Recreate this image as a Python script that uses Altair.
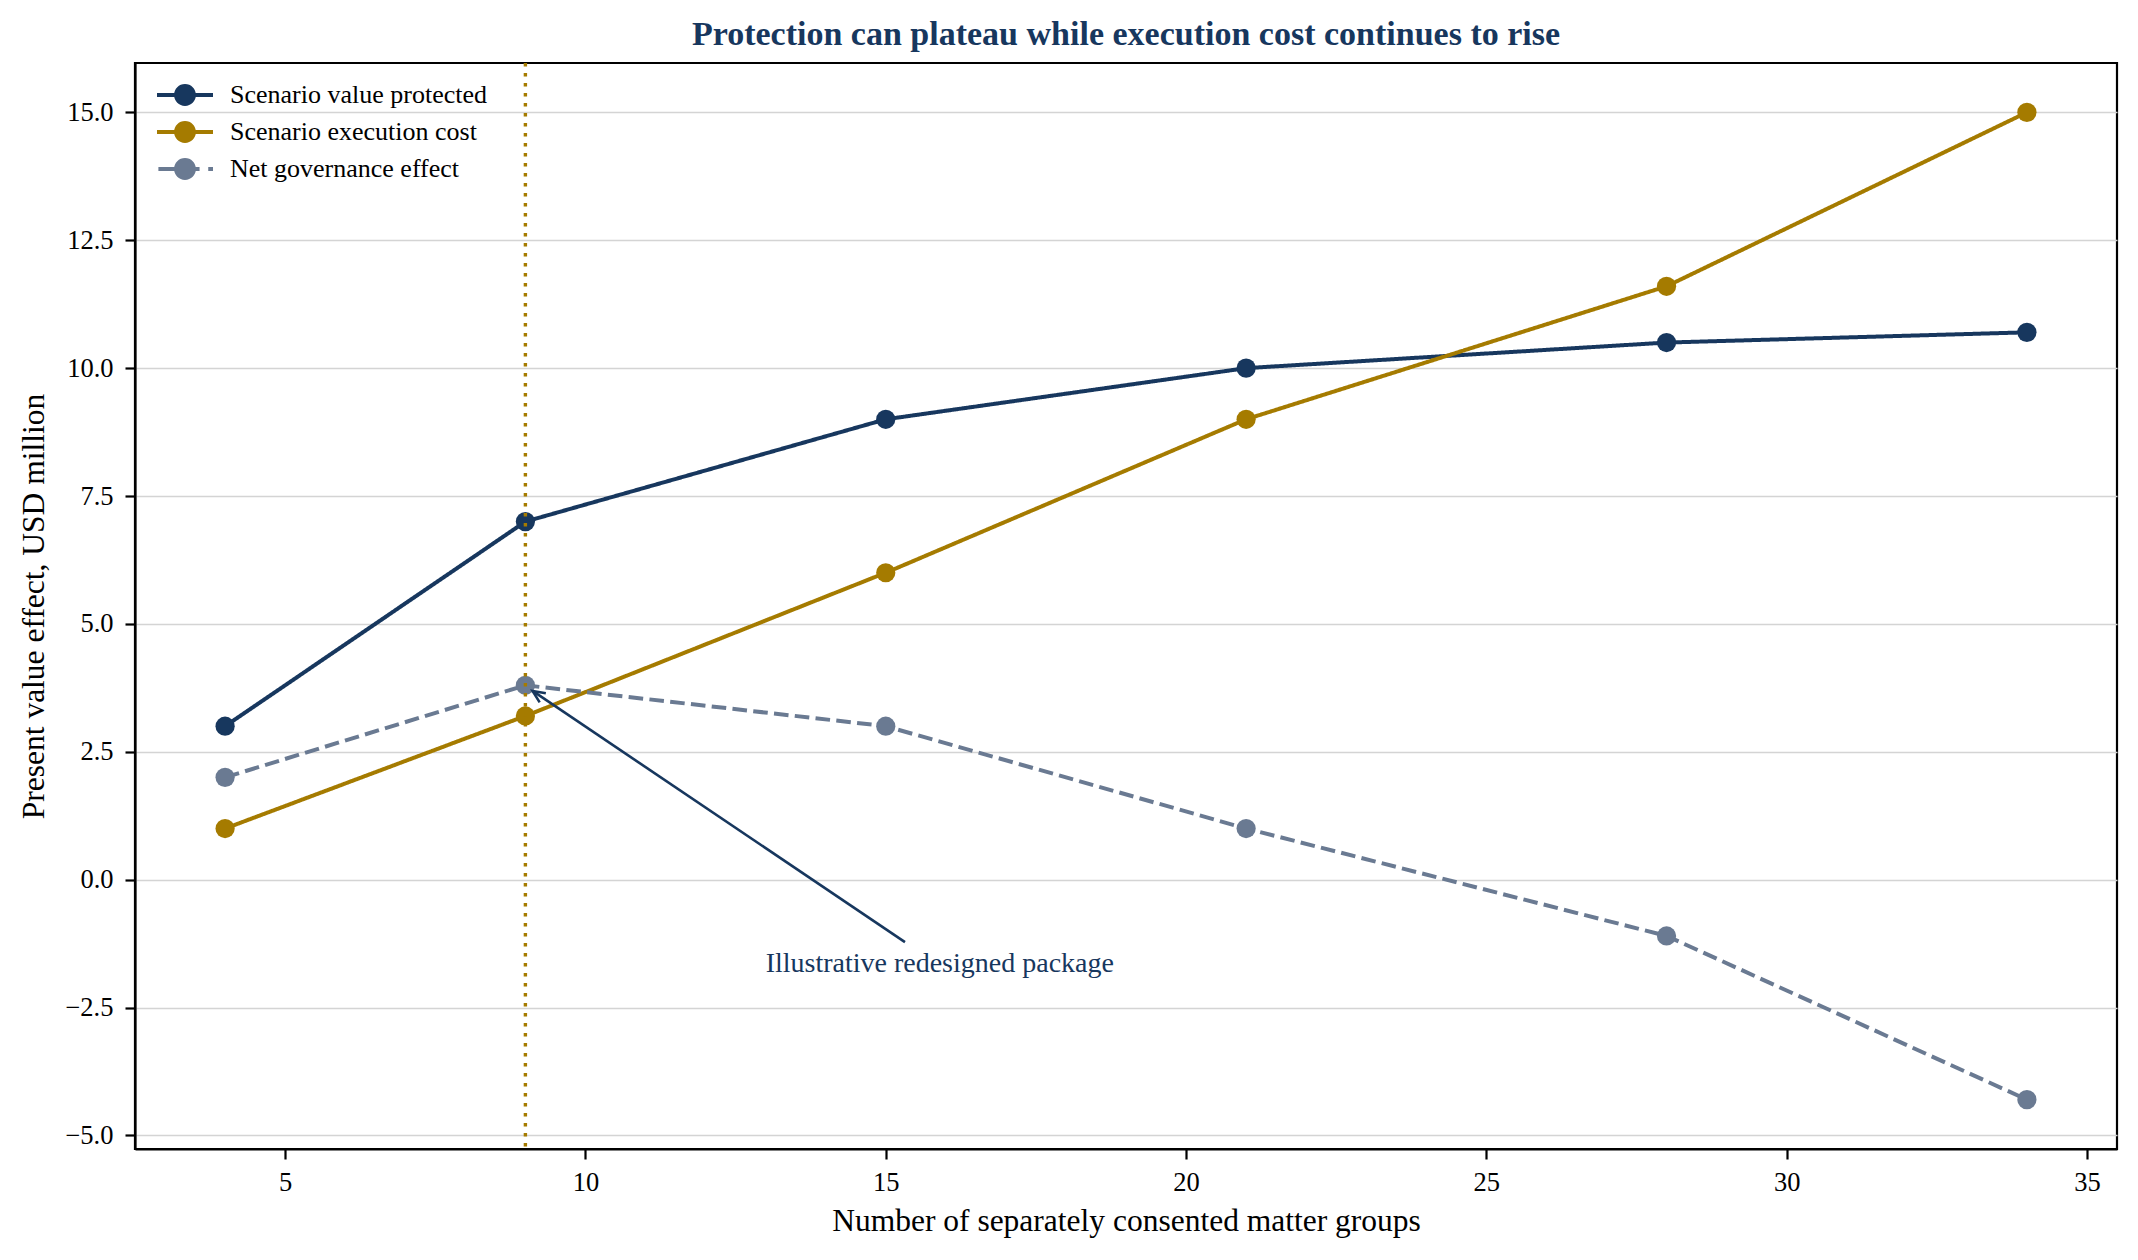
import altair as alt
import pandas as pd

# ---------------- data ----------------
matter_groups = [4, 9, 15, 21, 28, 34]
value_protected = [3.0, 7.0, 9.0, 10.0, 10.5, 10.7]
execution_cost = [1.0, 3.2, 6.0, 9.0, 11.6, 15.0]
net_effect = [2.0, 3.8, 3.0, 1.0, -1.1, -4.3]

series_names = ["Scenario value protected", "Scenario execution cost", "Net governance effect"]
series_colors = ["#17375E", "#A57B00", "#6A7A92"]

x_ticks = [5, 10, 15, 20, 25, 30, 35]
y_ticks = [-5.0, -2.5, 0.0, 2.5, 5.0, 7.5, 10.0, 12.5, 15.0]
x_domain = [2.5, 35.5]
y_domain = [-5.265, 15.965]

redesign_groups = [9]
annotation_label = ["Illustrative redesigned package"]
annotation_x = [13.0]
annotation_y = [-1.8]
arrow_from_x = [15.32]
arrow_from_y = [-1.22]
arrow_to_x = [9.12]
arrow_to_y = [3.69]

TITLE = "Protection can plateau while execution cost continues to rise"
X_TITLE = "Number of separately consented matter groups"
Y_TITLE = "Present value effect, USD million"

FONT = "Liberation Serif"
NAVY = series_colors[0]
GOLD = series_colors[1]

# ---------------- tables ----------------
rows = []
for name, vals in zip(series_names, [value_protected, execution_cost, net_effect]):
    for g, v in zip(matter_groups, vals):
        rows.append({"groups": g, "value": v, "series": name})
df = pd.DataFrame(rows)

df_rule = pd.DataFrame({"groups": redesign_groups})
df_text = pd.DataFrame({"groups": annotation_x, "value": annotation_y, "label": annotation_label})
df_arrow = pd.DataFrame({"groups": arrow_from_x, "value": arrow_from_y,
                         "groups2": arrow_to_x, "value2": arrow_to_y})
df_head = pd.DataFrame({"groups": arrow_to_x, "value": arrow_to_y})

# ---------------- encodings ----------------
x_scale = alt.Scale(domain=x_domain, nice=False, zero=False)
y_scale = alt.Scale(domain=y_domain, nice=False, zero=False)

x_axis = alt.Axis(values=x_ticks, format="d", grid=False, title=X_TITLE,
                  titleX=991, titleY=81, titleBaseline="alphabetic", titleAlign="center",
                  labelPadding=10)
y_axis = alt.Axis(values=y_ticks, grid=True, title=Y_TITLE,
                  labelExpr="replace(format(datum.value, '.1f'), '-', '\u2212')",
                  titleX=-92, titleY=543, titleAngle=270, titleBaseline="alphabetic",
                  titleAlign="center", labelPadding=12)

def X(field="groups"):
    return alt.X(f"{field}:Q", scale=x_scale, axis=x_axis)

def Y(field="value"):
    return alt.Y(f"{field}:Q", scale=y_scale, axis=y_axis)

color_scale = alt.Scale(domain=series_names, range=series_colors)
dash_scale = alt.Scale(domain=series_names, range=[[1, 0], [1, 0], [14.6, 6.3]])

# legend glyphs (line with a dot), path units: symbol radius 14px -> path spans -2..2 (56px)
solid_sym = ("M-2,-0.143L-0.6,-0.143L-0.6,0.143L-2,0.143Z "
             "M0.6,-0.143L2,-0.143L2,0.143L0.6,0.143Z "
             "M0.78,0A0.78,0.78 0 1 1 -0.78,0A0.78,0.78 0 1 1 0.78,0Z")
dash_sym = ("M-1.9,-0.143L-0.6,-0.143L-0.6,0.143L-1.9,0.143Z "
            "M0.6,-0.143L1.04,-0.143L1.04,0.143L0.6,0.143Z "
            "M1.66,-0.143L2,-0.143L2,0.143L1.66,0.143Z "
            "M0.78,0A0.78,0.78 0 1 1 -0.78,0A0.78,0.78 0 1 1 0.78,0Z")
shape_scale = alt.Scale(domain=series_names, range=[solid_sym, solid_sym, dash_sym])

legend = alt.Legend(
    title=None, orient="top-left", offset=18, direction="vertical",
    symbolSize=784, symbolStrokeWidth=0, symbolOpacity=1, symbolOffset=18,
    rowPadding=10, labelOffset=31, padding=0,
    labelFont=FONT, labelFontSize=26, labelColor="black", labelBaseline="middle",
    labelLimit=800,
)

lines = alt.Chart(df).mark_line(strokeWidth=4).encode(
    x=X(), y=Y(),
    color=alt.Color("series:N", scale=color_scale, legend=None),
    strokeDash=alt.StrokeDash("series:N", scale=dash_scale, legend=None),
)

points = alt.Chart(df).mark_point(filled=True, size=370, opacity=1).encode(
    x=X(), y=Y(),
    color=alt.Color("series:N", scale=color_scale, legend=None),
)

# legend carrier: zero-area symbols, so only the legend shows
legend_layer = alt.Chart(df).mark_point(filled=True, size=0).encode(
    x=X(), y=Y(),
    color=alt.Color("series:N", scale=color_scale, legend=legend),
    shape=alt.Shape("series:N", scale=shape_scale, legend=legend),
)

vrule = alt.Chart(df_rule).mark_rule(color=GOLD, strokeWidth=3.4, strokeDash=[3.4, 6.6]).encode(
    x=X(),
)

arrow = alt.Chart(df_arrow).mark_rule(color=NAVY, strokeWidth=2.6).encode(
    x=X(), y=Y(), x2="groups2:Q", y2="value2:Q",
)

head = alt.Chart(df_head).mark_point(
    shape="M-0.45,1L0,0L0.45,1", filled=False, color=NAVY, strokeWidth=2.6,
    size=600, angle=304, opacity=1,
).encode(x=X(), y=Y())

label = alt.Chart(df_text).mark_text(
    align="left", baseline="alphabetic", font=FONT, fontSize=28, color=NAVY,
).encode(x=X(), y=Y(), text="label:N")

chart = alt.layer(lines, points, legend_layer, vrule, arrow, head, label).resolve_legend(
    color="independent", shape="independent", strokeDash="independent",
).properties(
    width=1982, height=1086,
    title=alt.TitleParams(text=TITLE, font=FONT, fontSize=34, fontWeight="bold",
                          color=NAVY, anchor="middle", baseline="bottom",
                          offset=10, dy=35, frame="group"),
    padding={"left": 127, "top": 55, "right": 13, "bottom": 95},
    autosize=alt.AutoSizeParams(type="none"),
).configure_view(
    stroke="black", strokeWidth=2.2,
).configure_axis(
    labelFont=FONT, labelFontSize=26.5, labelColor="black",
    titleFont=FONT, titleFontSize=31.5, titleFontWeight="normal", titleColor="black",
    tickSize=10, tickWidth=2.2, tickColor="black",
    domainColor="black", domainWidth=2.2,
    gridColor="#D4D4D4", gridWidth=1.6,
)

chart.save("out.html", embed_options={"renderer": "svg", "actions": False})
